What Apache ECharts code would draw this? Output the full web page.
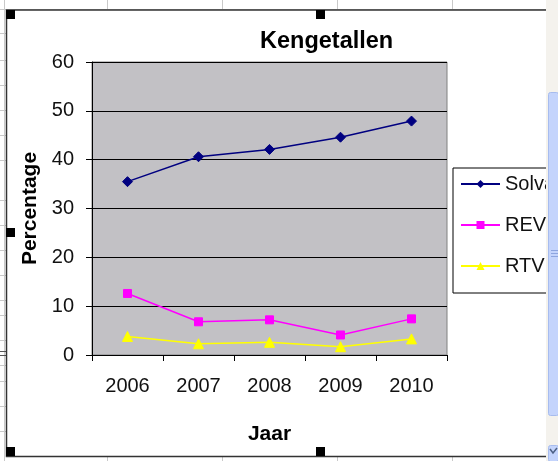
<!DOCTYPE html>
<html>
<head>
<meta charset="utf-8">
<script src="https://cdn.jsdelivr.net/npm/echarts@6/dist/echarts.min.js"></script>
<style>
html,body{margin:0;padding:0;background:#fff;}
#c{width:558px;height:461px;}
</style>
</head>
<body>
<div id="c"></div>
<script>
var categories = ['2006', '2007', '2008', '2009', '2010'];
var solvabiliteit = [35.5, 40.6, 42.1, 44.6, 47.9];
var rev = [12.6, 6.8, 7.2, 4.1, 7.4];
var rtv = [3.8, 2.3, 2.6, 1.7, 3.3];
var seriesNames = ['Solvabiliteit', 'REV', 'RTV'];

var FONT = '"Liberation Sans", Arial, sans-serif';
var chart = echarts.init(document.getElementById('c'), null, {renderer: 'canvas'});

var gridColor = '#c9c9c9';
var graphics = [];
// spreadsheet cell borders
graphics.push({type: 'line', shape: {x1: 0, y1: 9.5, x2: 546, y2: 9.5}, style: {stroke: gridColor, lineWidth: 1}});
[107, 222, 337, 452].forEach(function (x) {
  graphics.push({type: 'line', shape: {x1: x + 0.5, y1: 0, x2: x + 0.5, y2: 9}, style: {stroke: gridColor, lineWidth: 1}});
  graphics.push({type: 'line', shape: {x1: x + 0.5, y1: 457, x2: x + 0.5, y2: 461}, style: {stroke: gridColor, lineWidth: 1}});
});
graphics.push({type: 'line', shape: {x1: 4.5, y1: 0, x2: 4.5, y2: 461}, style: {stroke: gridColor, lineWidth: 1}});
[33, 60, 85, 110, 135, 160, 200, 225, 250, 275, 300, 315, 340, 365, 381, 406, 431].forEach(function (y) {
  graphics.push({type: 'line', shape: {x1: 0, y1: y + 0.5, x2: 6, y2: y + 0.5}, style: {stroke: gridColor, lineWidth: 1}});
});
[351, 355].forEach(function (y) {
  graphics.push({type: 'line', shape: {x1: 0, y1: y + 0.5, x2: 6, y2: y + 0.5}, style: {stroke: '#555', lineWidth: 1}});
});
// chart area border
graphics.push({type: 'rect', shape: {x: 6.5, y: 10, width: 640, height: 446.5}, style: {fill: null, stroke: '#333', lineWidth: 1.5}});
// selection handles
[[6, 10], [316, 10], [6, 228], [316, 447], [6, 447]].forEach(function (p) {
  graphics.push({type: 'rect', shape: {x: p[0], y: p[1], width: 9, height: 9}, style: {fill: '#000'}, z: 50});
});
// window scrollbar
graphics.push({type: 'rect', shape: {x: 546, y: 0, width: 12, height: 461}, style: {fill: '#f4f2ed'}, z: 100});
graphics.push({type: 'rect', shape: {x: 548.5, y: 92.5, width: 10, height: 323, r: 2}, style: {fill: '#c4d4fc', stroke: '#a7bcee', lineWidth: 1}, z: 101});
[250, 253, 256].forEach(function (y) {
  graphics.push({type: 'line', shape: {x1: 551, y1: y + 0.5, x2: 558, y2: y + 0.5}, style: {stroke: '#8da5df', lineWidth: 1}, z: 102});
});
graphics.push({type: 'rect', shape: {x: 548.5, y: 445.5, width: 10, height: 16, r: 2}, style: {fill: '#c4d4fc', stroke: '#a7bcee', lineWidth: 1}, z: 101});
graphics.push({type: 'polyline', shape: {points: [[550, 449], [553, 453], [557, 448]]}, style: {stroke: '#4d6185', lineWidth: 1.5, fill: null}, z: 102});

var option = {
  backgroundColor: '#ffffff',
  animation: false,
  title: {
    text: 'Kengetallen',
    left: 260,
    top: 30,
    padding: 0,
    textStyle: {fontFamily: FONT, fontSize: 23.5, fontWeight: 'bold', color: '#000'}
  },
  legend: {
    orient: 'vertical',
    left: 453,
    top: 168,
    padding: [6, 30, 17, 7],
    itemWidth: 39,
    itemHeight: 10,
    itemGap: 21,
    borderColor: '#000',
    borderWidth: 1,
    backgroundColor: '#fff',
    textStyle: {fontFamily: FONT, fontSize: 20, color: '#111'},
    data: seriesNames
  },
  grid: {
    left: 92, top: 62, width: 355, height: 293,
    show: true, backgroundColor: '#c2c1c5', borderColor: '#808080', borderWidth: 1
  },
  xAxis: {
    type: 'category',
    data: categories,
    boundaryGap: true,
    name: 'Jaar',
    nameLocation: 'middle',
    nameGap: 69,
    nameTextStyle: {fontFamily: FONT, fontSize: 21, fontWeight: 'bold', color: '#000'},
    axisLine: {lineStyle: {color: '#000', width: 1}},
    axisTick: {show: true, length: 6, inside: false, lineStyle: {color: '#000'}},
    axisLabel: {fontFamily: FONT, fontSize: 20, color: '#111', margin: 21}
  },
  yAxis: {
    type: 'value',
    min: 0, max: 60, interval: 10,
    name: 'Percentage',
    nameLocation: 'middle',
    nameRotate: 90,
    nameGap: 49,
    nameTextStyle: {fontFamily: FONT, fontSize: 21, fontWeight: 'bold', color: '#000'},
    axisLine: {show: true, lineStyle: {color: '#000', width: 1}},
    axisTick: {show: true, length: 6, inside: false, lineStyle: {color: '#000'}},
    axisLabel: {fontFamily: FONT, fontSize: 20, color: '#111', margin: 18},
    splitLine: {show: true, lineStyle: {color: '#000', width: 1}}
  },
  series: [
    {
      name: seriesNames[0], type: 'line', data: solvabiliteit,
      symbol: 'diamond', symbolSize: 10,
      lineStyle: {color: '#000080', width: 1.5},
      itemStyle: {color: '#000080', borderColor: '#000080'}
    },
    {
      name: seriesNames[1], type: 'line', data: rev,
      symbol: 'rect', symbolSize: 8,
      lineStyle: {color: '#ff00ff', width: 1.5},
      itemStyle: {color: '#ff00ff', borderColor: '#ff00ff'}
    },
    {
      name: seriesNames[2], type: 'line', data: rtv,
      symbol: 'triangle', symbolSize: 10,
      lineStyle: {color: '#ffff00', width: 1.5},
      itemStyle: {color: '#ffff00', borderColor: '#ffff00'}
    }
  ],
  graphic: {elements: graphics}
};
chart.setOption(option);
</script>
</body>
</html>
